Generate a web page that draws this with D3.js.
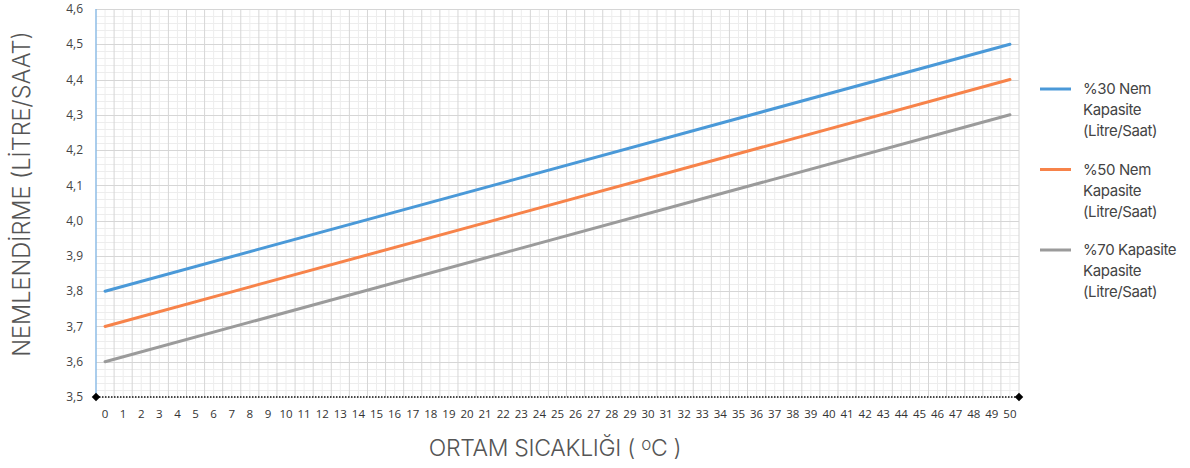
<!DOCTYPE html>
<html>
<head>
    <title>Nemlendirme Kapasitesi</title>
    <script src="https://cdnjs.cloudflare.com/ajax/libs/d3/7.8.5/d3.min.js"></script>
    <style>
        body {
            margin: 0;
            background-color: #ffffff;
        }
        #chart {
            width: 1190px;
            height: 468px;
        }
    </style>
</head>
<body>
    <div id="chart"></div>

    <script>
        // Data (straight lines, end points)
        const temps = d3.range(0, 51);           // x categories 0..50
        const pointTemps = [0, 50];
        const nem30 = [3.8, 4.5];
        const nem50 = [3.7, 4.4];
        const nem70 = [3.6, 4.3];
        const yTicks = [3.5, 3.6, 3.7, 3.8, 3.9, 4.0, 4.1, 4.2, 4.3, 4.4, 4.5, 4.6];

        const seriesNames = [
            ['%30 Nem', 'Kapasite', '(Litre/Saat)'],
            ['%50 Nem', 'Kapasite', '(Litre/Saat)'],
            ['%70 Kapasite', 'Kapasite', '(Litre/Saat)']
        ];
        const seriesColors = ['#4a99d8', '#f7834a', '#9b9b9b'];
        const seriesValues = [nem30, nem50, nem70];

        const width = 1190, height = 468;
        const plot = {left: 96, right: 1019, top: 9, bottom: 397};

        const svg = d3.select('#chart')
            .append('svg')
                .attr('width', width)
                .attr('height', height);

        // Scales
        const x = d3.scaleBand()
            .domain(temps)
            .range([plot.left, plot.right]);

        const y = d3.scaleLinear()
            .domain([3.5, 4.6])
            .range([plot.bottom, plot.top]);

        const xc = d => x(d) + x.bandwidth() / 2;

        // Minor grid
        const grid = svg.append('g');
        grid.selectAll('.vminor')
            .data(temps)
            .enter().append('line')
                .attr('x1', d => xc(d)).attr('x2', d => xc(d))
                .attr('y1', plot.top).attr('y2', plot.bottom)
                .attr('stroke', '#ededed').attr('stroke-width', 1);

        const minorY = d3.range(0, 56).map(i => 3.5 + i * 0.02);
        grid.selectAll('.hminor')
            .data(minorY)
            .enter().append('line')
                .attr('x1', plot.left).attr('x2', plot.right)
                .attr('y1', d => Math.round(y(d)) + 0.5).attr('y2', d => Math.round(y(d)) + 0.5)
                .attr('stroke', '#ededed').attr('stroke-width', 1);

        // Major grid
        grid.selectAll('.vmajor')
            .data(temps.slice(1))
            .enter().append('line')
                .attr('x1', d => x(d)).attr('x2', d => x(d))
                .attr('y1', plot.top).attr('y2', plot.bottom)
                .attr('stroke', '#d6d6d6').attr('stroke-width', 1);

        grid.append('line')
            .attr('x1', plot.right).attr('x2', plot.right)
            .attr('y1', plot.top).attr('y2', plot.bottom)
            .attr('stroke', '#d6d6d6').attr('stroke-width', 1);

        grid.selectAll('.hmajor')
            .data(yTicks.slice(1))
            .enter().append('line')
                .attr('x1', plot.left).attr('x2', plot.right)
                .attr('y1', d => Math.round(y(d)) + 0.5).attr('y2', d => Math.round(y(d)) + 0.5)
                .attr('stroke', '#d6d6d6').attr('stroke-width', 1);

        // Y axis line (light blue)
        svg.append('line')
            .attr('x1', plot.left).attr('x2', plot.left)
            .attr('y1', plot.top).attr('y2', plot.bottom)
            .attr('stroke', '#8ebde6').attr('stroke-width', 1.5);

        // Y tick labels
        svg.append('g')
            .selectAll('text')
            .data(yTicks)
            .enter().append('text')
                .attr('x', 83)
                .attr('y', d => y(d))
                .attr('dy', '0.35em')
                .attr('text-anchor', 'end')
                .style('font-family', '"Open Sans", sans-serif')
                .style('font-size', '12px')
                .style('fill', '#444')
                .text(d => d3.format('.1f')(d).replace('.', ','));

        // X tick labels
        svg.append('g')
            .selectAll('text')
            .data(temps)
            .enter().append('text')
                .attr('x', d => xc(d))
                .attr('y', 414)
                .attr('dy', '0.35em')
                .attr('text-anchor', 'middle')
                .style('font-family', '"Open Sans", sans-serif')
                .style('font-size', '11.5px')
                .style('fill', '#333')
                .text(d => d);

        // Lines
        const line = d3.line()
            .x((d, i) => xc(pointTemps[i]))
            .y(d => y(d));

        seriesValues.forEach((vals, i) => {
            svg.append('path')
                .datum(vals)
                .attr('fill', 'none')
                .attr('stroke', seriesColors[i])
                .attr('stroke-width', 3)
                .attr('stroke-linecap', 'round')
                .attr('d', line);
        });

        // Bottom dotted axis with diamond ends
        svg.append('line')
            .attr('x1', plot.left).attr('x2', plot.right)
            .attr('y1', plot.bottom).attr('y2', plot.bottom)
            .attr('stroke', '#111')
            .attr('stroke-width', 1.5)
            .attr('stroke-dasharray', '1.5,1.5');

        [plot.left, plot.right].forEach(px => {
            svg.append('path')
                .attr('d', d3.symbol().type(d3.symbolSquare).size(36)())
                .attr('transform', `translate(${px},${plot.bottom}) rotate(45)`)
                .attr('fill', '#000');
        });

        // Axis titles
        svg.append('text')
            .attr('transform', 'rotate(-90)')
            .attr('x', -194)
            .attr('y', 30)
            .attr('text-anchor', 'middle')
            .style('font-family', 'Inter, sans-serif')
            .style('font-weight', 300)
            .style('font-size', '23.5px')
            .style('fill', '#555')
            .style('letter-spacing', '0px')
            .text('NEMLENDİRME (LİTRE/SAAT)');

        const xt = svg.append('text')
            .attr('x', 555)
            .attr('y', 456)
            .attr('text-anchor', 'middle')
            .style('font-family', 'Inter, sans-serif')
            .style('font-weight', 300)
            .style('font-size', '23px')
            .style('fill', '#555')
            .style('letter-spacing', '-0.3px');
        xt.append('tspan').text('ORTAM SICAKLIĞI ( ');
        xt.append('tspan').attr('dy', -6).style('font-size', '17px').text('o');
        xt.append('tspan').attr('dy', 6).text('C )');

        // Legend
        const legend = svg.append('g');
        seriesNames.forEach((lines, i) => {
            const ly = 89 + i * 80.5;
            legend.append('line')
                .attr('x1', 1040).attr('x2', 1071)
                .attr('y1', ly).attr('y2', ly)
                .attr('stroke', seriesColors[i])
                .attr('stroke-width', 3);
            lines.forEach((t, j) => {
                legend.append('text')
                    .attr('x', 1083)
                    .attr('y', ly + j * 21)
                    .attr('dy', '0.35em')
                    .style('font-family', 'Inter, sans-serif')
                    .style('font-size', '15px')
                    .style('fill', '#444')
                    .style('letter-spacing', '-0.4px')
                    .text(t);
            });
        });
    </script>
</body>
</html>
